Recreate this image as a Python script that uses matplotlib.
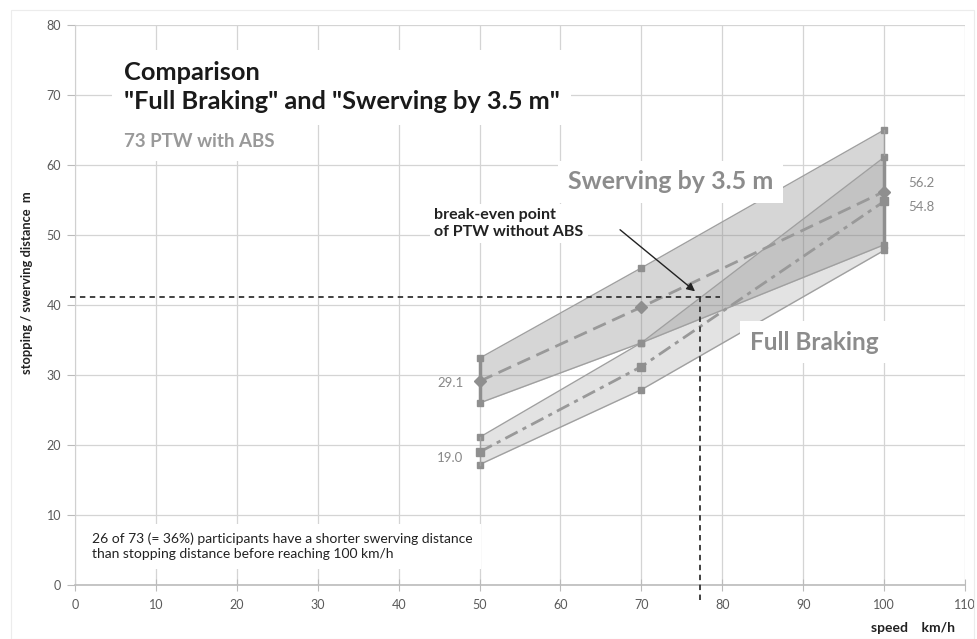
import numpy as np
import matplotlib.pyplot as plt
from matplotlib.patches import Rectangle

plt.rcParams['font.family'] = ['Lato', 'DejaVu Sans']

# speeds [km/h]
speed = [50, 70, 100]

# swerving by 3.5 m
swerve_lo = [26.0, 34.6, 48.6]
swerve_hi = [32.4, 45.3, 65.0]
swerve_mean = [29.1, 39.7, 56.2]

# full braking
brake_lo = [17.2, 27.9, 47.8]
brake_hi = [21.1, 34.6, 61.1]
brake_mean = [19.0, 31.2, 54.8]

# break-even point of PTW without ABS
be_speed = 77.3
be_dist = 41.2

xticks = list(range(0, 111, 10))
yticks = list(range(0, 81, 10))

grey = '#999999'
edge = '#a0a0a0'

fig = plt.figure(figsize=(9.78, 6.39), dpi=100)
ax = fig.add_axes([0.0767, 0.0845, 0.91, 0.8764])
fig.patches.append(Rectangle((0.011, 0.0), 0.985, 0.984, transform=fig.transFigure,
                             fill=False, edgecolor='#ececec', lw=0.8))

ax.set_xlim(0, 110)
ax.set_ylim(0, 80)
ax.set_xticks(xticks)
ax.set_yticks(yticks)
ax.grid(True, color='#d4d4d4', lw=0.9)
ax.set_axisbelow(True)
for s in ['top', 'right']:
    ax.spines[s].set_visible(False)
ax.spines['left'].set_color('#d0d0d0')
ax.spines['bottom'].set_color('#bbbbbb')
ax.spines['bottom'].set_linewidth(1.2)
ax.tick_params(axis='x', direction='inout', length=8, color='#bbbbbb', labelsize=9,
               labelcolor='#5a5a5a', pad=6)
ax.tick_params(axis='y', direction='out', length=6, color='#bbbbbb', labelsize=9,
               labelcolor='#5a5a5a', pad=4)

# bands
ax.fill_between(speed, swerve_lo, swerve_hi, color='#808080', alpha=0.32, lw=0, zorder=2)
ax.fill_between(speed, brake_lo, brake_hi, color='#808080', alpha=0.22, lw=0, zorder=2)
for arr in [swerve_lo, swerve_hi, brake_lo, brake_hi]:
    ax.plot(speed, arr, color=edge, lw=1.0, marker='s', ms=5, mec='#8f8f8f', mfc='#8f8f8f', zorder=3)

# band ends
ax.plot([speed[0], speed[0]], [swerve_lo[0], swerve_hi[0]], color='#8f8f8f', lw=2.5, zorder=3)
ax.plot([speed[0], speed[0]], [brake_lo[0], brake_hi[0]], color=edge, lw=1.0, zorder=3)
ax.plot([speed[-1], speed[-1]], [swerve_lo[-1], swerve_hi[-1]], color=edge, lw=1.0, zorder=3)
ax.plot([speed[-1], speed[-1]], [brake_lo[-1], brake_hi[-1]], color='#8f8f8f', lw=2.5, zorder=3)

# means
ax.plot(speed, swerve_mean, color=grey, lw=2, dashes=(5, 2.5), marker='D', ms=6,
        mec='#8f8f8f', mfc='#8f8f8f', zorder=4)
ax.plot(speed, brake_mean, color=grey, lw=2, dashes=(5, 2, 1.5, 2), marker='s', ms=5.5,
        mec='#8f8f8f', mfc='#8f8f8f', zorder=4)

# value labels
lab = dict(fontsize=9.5, color='#888888', va='center')
ax.text(48.0, swerve_mean[0] - 0.2, f'{swerve_mean[0]:.1f}', ha='right', **lab)
ax.text(48.0, brake_mean[0] - 0.9, f'{brake_mean[0]:.1f}', ha='right', **lab)
ax.text(103.0, swerve_mean[-1] + 1.2, f'{swerve_mean[-1]:.1f}', ha='left', **lab)
ax.text(103.0, brake_mean[-1] - 0.8, f'{brake_mean[-1]:.1f}', ha='left', **lab)

# break-even lines
ax.plot([-0.6, 79.7], [be_dist, be_dist], color='#333333', lw=1.3, ls=(0, (3, 2.5)),
        zorder=5, clip_on=False)
ax.plot([be_speed, be_speed], [-2.2, be_dist], color='#333333', lw=1.3, ls=(0, (3, 2.5)),
        zorder=5, clip_on=False)
ax.annotate('', xy=(be_speed - 0.4, be_dist + 0.5), xytext=(67.1, 51.0),
            arrowprops=dict(arrowstyle='-|>', color='#222222', lw=1.0, mutation_scale=12),
            zorder=6)

box = dict(facecolor='white', edgecolor='none', pad=3)
ax.text(44.4, 51.6, 'break-even point\nof PTW without ABS', fontsize=11.5, color='#222222',
        fontweight='bold', ha='left', va='center', linespacing=1.25, bbox=box, zorder=7)

ax.text(6.0, 71.1, 'Comparison\n"Full Braking" and "Swerving by 3.5 m"', fontsize=18.3,
        fontweight='bold', color='#1a1a1a', ha='left', va='center', linespacing=1.33,
        bbox=dict(facecolor='white', edgecolor='none', pad=8), zorder=7)
ax.text(6.0, 63.3, '73 PTW with ABS', fontsize=13.5, fontweight='bold', color='#999999',
        ha='left', va='center', bbox=dict(facecolor='white', edgecolor='none', pad=8), zorder=7)

ax.text(60.9, 57.6, 'Swerving by 3.5 m', fontsize=18, fontweight='bold', color='#8c8c8c',
        ha='left', va='center', bbox=dict(facecolor='white', edgecolor='none', pad=7), zorder=7)
ax.text(83.4, 34.7, 'Full Braking', fontsize=17.5, fontweight='bold', color='#8c8c8c',
        ha='left', va='center', bbox=dict(facecolor='white', edgecolor='none', pad=7), zorder=7)

ax.text(2.1, 5.5, '26 of 73 (= 36%) participants have a shorter swerving distance\n'
        'than stopping distance before reaching 100 km/h', fontsize=10, color='#222222',
        ha='left', va='center', linespacing=1.3,
        bbox=dict(facecolor='white', edgecolor='none', pad=6), zorder=7)

ax.set_ylabel('stopping / swerving distance  m', fontsize=9.3, fontweight='bold',
              color='#222222')
ax.yaxis.set_label_coords(-0.047, 0.54)
ax.text(0.989, -0.077, 'speed    km/h', transform=ax.transAxes, fontsize=10,
        fontweight='bold', color='#222222', ha='right', va='center')

fig.savefig('out.png', dpi=100)
